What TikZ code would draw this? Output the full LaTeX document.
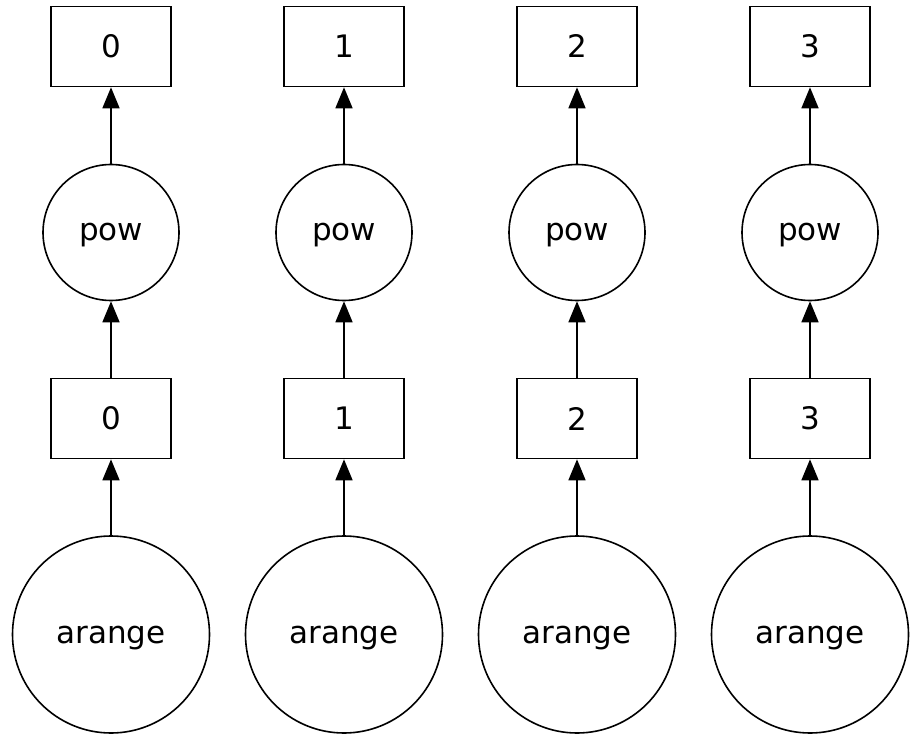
\documentclass[tikz,border=0pt]{standalone}
\usepackage{fontspec}
\setmainfont{DejaVu Sans}
\usetikzlibrary{shapes,arrows.meta,calc}
\tikzstyle{line} = [draw, line width=1.6pt, -{Triangle[length=21pt,width=17pt]}]
\tikzstyle{chunk} = [draw, line width=1.6pt, rectangle, text centered, minimum width=120pt, minimum height=80pt, inner sep=0pt]
\tikzstyle{task} = [draw, line width=1.6pt, circle, text centered, text height=17pt, text depth=0pt, minimum size=136pt, inner sep=0pt]
\tikzstyle{source} = [draw, line width=1.6pt, circle, text centered, text height=17pt, text depth=0pt, minimum size=197pt, inner sep=0pt]

\begin{document}
\begin{tikzpicture}[x=1pt, y=1pt, node distance=233pt, font=\fontsize{31}{36}\selectfont]
        \useasboundingbox (0,0) rectangle (920,748);
        % bottom row
        \node[source] (arange0) at (111,113.5) {arange};
        \node[source, right of=arange0] (arange1) {arange};
        \node[source, right of=arange1] (arange2) {arange};
        \node[source, right of=arange2] (arange3) {arange};
        % chunks
        \node[chunk, above of=arange0, node distance=216pt] (chunk0) {0};
        \node[chunk, above of=arange1, node distance=216pt] (chunk1) {1};
        \node[chunk, above of=arange2, node distance=216pt] (chunk2) {2};
        \node[chunk, above of=arange3, node distance=216pt] (chunk3) {3};
        % pow tasks
        \node[task, above of=chunk0, node distance=186pt] (pow0) {pow};
        \node[task, above of=chunk1, node distance=186pt] (pow1) {pow};
        \node[task, above of=chunk2, node distance=186pt] (pow2) {pow};
        \node[task, above of=chunk3, node distance=186pt] (pow3) {pow};
        % results
        \node[chunk, above of=pow0, node distance=186pt] (out0) {0};
        \node[chunk, above of=pow1, node distance=186pt] (out1) {1};
        \node[chunk, above of=pow2, node distance=186pt] (out2) {2};
        \node[chunk, above of=pow3, node distance=186pt] (out3) {3};
        \path[line] (arange0) -- (chunk0);
        \path[line] (arange1) -- (chunk1);
        \path[line] (arange2) -- (chunk2);
        \path[line] (arange3) -- (chunk3);
        \path[line] (chunk0) -- (pow0);
        \path[line] (chunk1) -- (pow1);
        \path[line] (chunk2) -- (pow2);
        \path[line] (chunk3) -- (pow3);
        \path[line] (pow0) -- (out0);
        \path[line] (pow1) -- (out1);
        \path[line] (pow2) -- (out2);
        \path[line] (pow3) -- (out3);
    \end{tikzpicture}
\end{document}
